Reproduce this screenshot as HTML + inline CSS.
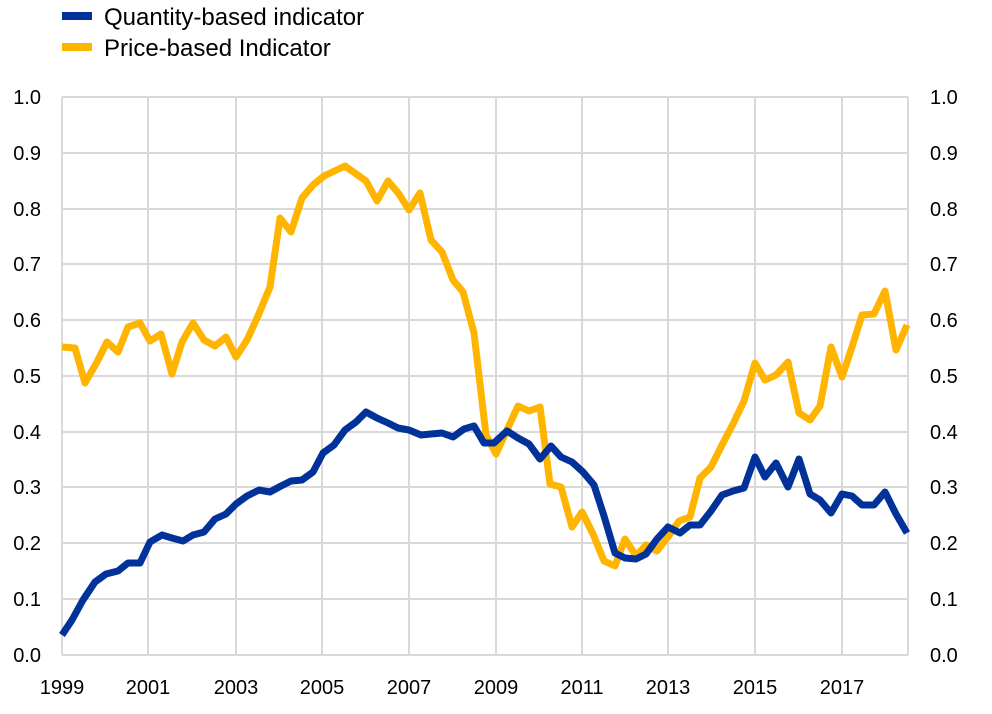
<!DOCTYPE html>
<html><head><style>body{margin:0;background:#fff}</style></head><body>
<svg width="992" height="709" xmlns="http://www.w3.org/2000/svg" font-family="Liberation Sans, sans-serif" font-size="20" fill="#000">
<g stroke="#d9d9d9" stroke-width="2">
<line x1="62" y1="97" x2="908" y2="97"/><line x1="62" y1="153" x2="908" y2="153"/><line x1="62" y1="209" x2="908" y2="209"/><line x1="62" y1="264" x2="908" y2="264"/><line x1="62" y1="320" x2="908" y2="320"/><line x1="62" y1="376" x2="908" y2="376"/><line x1="62" y1="432" x2="908" y2="432"/><line x1="62" y1="487" x2="908" y2="487"/><line x1="62" y1="543" x2="908" y2="543"/><line x1="62" y1="599" x2="908" y2="599"/><line x1="62" y1="655" x2="908" y2="655"/>
<line x1="62" y1="97" x2="62" y2="655"/><line x1="148" y1="97" x2="148" y2="655"/><line x1="236" y1="97" x2="236" y2="655"/><line x1="322" y1="97" x2="322" y2="655"/><line x1="409" y1="97" x2="409" y2="655"/><line x1="496" y1="97" x2="496" y2="655"/><line x1="582" y1="97" x2="582" y2="655"/><line x1="668" y1="97" x2="668" y2="655"/><line x1="755" y1="97" x2="755" y2="655"/><line x1="842" y1="97" x2="842" y2="655"/><line x1="908" y1="97" x2="908" y2="655"/>
</g>
<g text-anchor="end">
<text x="41" y="104">1.0</text><text x="41" y="160">0.9</text><text x="41" y="216">0.8</text><text x="41" y="271">0.7</text><text x="41" y="327">0.6</text><text x="41" y="383">0.5</text><text x="41" y="439">0.4</text><text x="41" y="494">0.3</text><text x="41" y="550">0.2</text><text x="41" y="606">0.1</text><text x="41" y="662">0.0</text>
</g>
<g text-anchor="start">
<text x="930" y="104">1.0</text><text x="930" y="160">0.9</text><text x="930" y="216">0.8</text><text x="930" y="271">0.7</text><text x="930" y="327">0.6</text><text x="930" y="383">0.5</text><text x="930" y="439">0.4</text><text x="930" y="494">0.3</text><text x="930" y="550">0.2</text><text x="930" y="606">0.1</text><text x="930" y="662">0.0</text>
</g>
<g text-anchor="middle">
<text x="62" y="694">1999</text><text x="148" y="694">2001</text><text x="236" y="694">2003</text><text x="322" y="694">2005</text><text x="409" y="694">2007</text><text x="496" y="694">2009</text><text x="582" y="694">2011</text><text x="668" y="694">2013</text><text x="755" y="694">2015</text><text x="842" y="694">2017</text>
</g>
<polyline fill="none" stroke="#ffb400" stroke-width="7" stroke-linejoin="round" points="62,347 75,348 85,383 97,362 107,342 118,352 128,327 140,323 150,341 161,334 172,374 182,342 193,323 204,340 215,346 226,337 236,357 247,340 258,316 270,287 280,218 291,232 302,198 313,185 324,176 345,166 366,181 377,201 388,181 399,194 409,210 420,193 431,240 442,252 453,280 463,292 474,333 486,435 496,454 507,430 518,406 529,411 540,407 550,484 561,487 572,527 582,512 593,534 604,561 615,566 625,539 636,556 646,545 657,551 668,537 679,521 690,517 700,478 711,467 722,445 733,424 744,401 755,363 765,380 776,375 788,362 799,413 810,420 820,406 831,347 842,377 852,347 862,315 874,314 885,291 896,350 907,325"/>
<polyline fill="none" stroke="#003299" stroke-width="7" stroke-linejoin="round" points="62,635 72,620 83,600 95,582 106,574 118,571 128,563 140,563 150,542 162,535 172,538 183,541 193,535 204,532 215,519 226,514 236,504 247,496 259,490 270,492 281,486 291,481 302,480 313,472 323,453 334,445 345,430 356,422 366,412 377,418 388,423 398,428 409,430 421,435 431,434 442,433 453,437 464,429 474,426 484,443 494,443 507,431 518,438 529,444 540,459 551,446 561,457 572,462 583,472 594,485 604,516 615,553 625,558 636,559 646,554 657,539 668,527 680,533 690,525 700,525 711,511 722,495 733,491 744,488 755,457 765,477 776,463 788,487 799,459 810,494 820,500 831,513 842,494 852,496 862,505 874,505 885,492 896,514 907,533"/>
<rect x="62" y="12" width="30" height="8" fill="#003299"/>
<text x="104" y="25" font-size="24">Quantity-based indicator</text>
<rect x="62" y="43" width="30" height="8" fill="#ffb400"/>
<text x="104" y="56" font-size="24">Price-based Indicator</text>
</svg>
</body></html>
